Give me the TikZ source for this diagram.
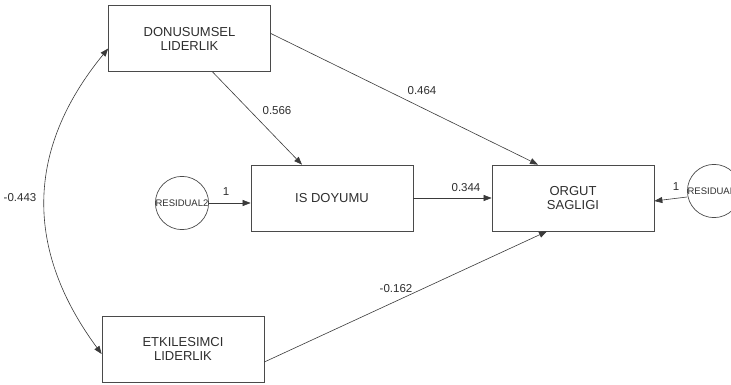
\documentclass[tikz,border=0pt]{standalone}
\usepackage{fontspec}
\setmainfont{Liberation Sans}
\usetikzlibrary{arrows.meta}
\definecolor{semLine}{HTML}{3A3A3A}
\definecolor{semBox}{HTML}{4A4A4A}
\definecolor{semText}{HTML}{2E2E2E}
\tikzset{
  sem box/.style={draw=semBox, line width=0.7pt, minimum width=162pt, minimum height=66pt,
    align=center, inner sep=0pt, font=\fontsize{13}{14}\selectfont, text=semText},
  sem resid/.style={circle, draw=semBox, line width=0.7pt, minimum size=50pt, inner sep=0pt,
    font=\fontsize{9.5}{10}\selectfont, text=semText},
  sem coef/.style={font=\fontsize{11.5}{12}\selectfont, text=semText, inner sep=1pt},
}

\begin{document}
\begin{tikzpicture}[x=1pt, y=-1pt,
  path/.style={draw=semLine, line width=0.6pt, -{Triangle[length=8pt, width=6pt]}},
  cov/.style={draw=semLine, line width=0.6pt, {Triangle[length=8pt, width=6pt]}-{Triangle[length=8pt, width=6pt]}}
]
  \useasboundingbox (0,0) rectangle (731,385);

  \node[sem box] (don) at (189.5,38.5) {DONUSUMSEL\\LIDERLIK};
  \node[sem box] (isd) at (332,198) {IS DOYUMU};
  \node[sem box] (org) at (573,198) {ORGUT\\SAGLIGI};
  \node[sem box] (etk) at (183,349) {ETKILESIMCI\\LIDERLIK};
  \node[sem resid] (res2) at (182,203) {RESIDUAL2};
  \node[sem resid] (res1) at (714,191) {RESIDUAL1};

  \draw[path] ([xshift=23pt]don.south) -- ([xshift=-30pt]isd.north);
  \draw[path] ([yshift=5pt]don.east) -- ([xshift=-35pt]org.north);
  \draw[path] (isd.east) -- (org.west);
  \draw[path] ([yshift=-13pt]etk.east) -- ([xshift=-26pt]org.south);
  \draw[path] (res2.east) -- (isd.west |- res2.east);
  \draw[path] ([yshift=-6pt]res1.west) -- ([yshift=-3pt]org.east);
  \draw[cov] ([yshift=-10pt]don.west) .. controls (25,150) and (25,250) .. ([yshift=-5pt]etk.west);

  % coefficients
  \node[sem coef] (c566) at (277,111) {0.566};
  \node[sem coef] (c464) at (422,91) {0.464};
  \node[sem coef] (c344) at (466,188) {0.344};
  \node[sem coef] (c162) at (396,289) {-0.162};
  \node[sem coef] (c443) at (20,198) {-0.443};
  \node[sem coef] (c1a) at (226,192) {1};
  \node[sem coef] (c1b) at (676,187) {1};
\end{tikzpicture}
\end{document}
